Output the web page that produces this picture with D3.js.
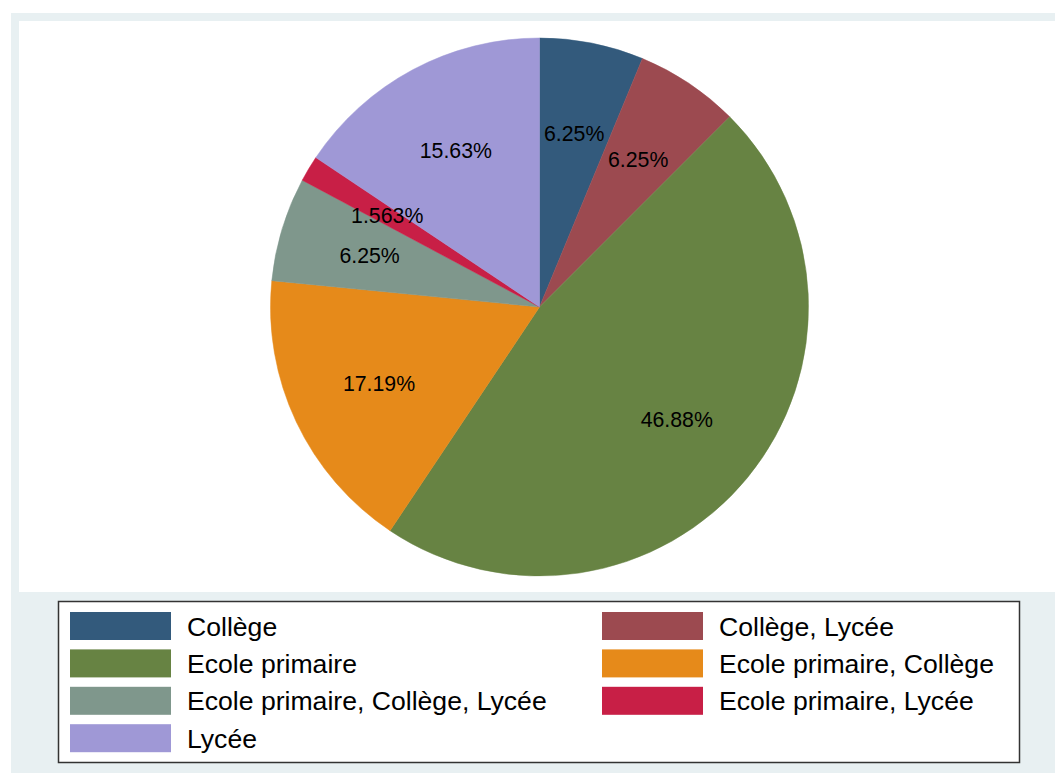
<!DOCTYPE html>
<html><head><meta charset="utf-8">
<script src="https://cdn.jsdelivr.net/npm/d3@7"></script>
<style>body{margin:0;background:#fff}svg{display:block}text{font-family:"Liberation Sans",Arial,Helvetica,sans-serif}</style>
</head><body>
<svg id="c" width="1055" height="774"></svg>
<script>
const categories = ["Collège","Collège, Lycée","Ecole primaire","Ecole primaire, Collège","Ecole primaire, Collège, Lycée","Ecole primaire, Lycée","Lycée"];
const counts = [4,4,30,11,4,1,10];
const labels = ["6.25%","6.25%","46.88%","17.19%","6.25%","1.563%","15.63%"];
const colors = ["#335a7c","#9c4a50","#678343","#e68a1a","#7f978c","#c81f46","#9f98d6"];

const svg = d3.select("#c");
svg.append("rect").attr("x",11).attr("y",13).attr("width",1044).attr("height",760).attr("fill","#e8f0f2");
svg.append("rect").attr("x",19).attr("y",21).attr("width",1036).attr("height",571).attr("fill","#ffffff");

const cx = 539.5, cy = 307, R = 269;
const pie = d3.pie().sort(null).value(d=>d)(counts);
const arc = d3.arc().innerRadius(0).outerRadius(R);
const labelArc = d3.arc().innerRadius(R*0.66).outerRadius(R*0.66);
const g = svg.append("g").attr("transform",`translate(${cx},${cy})`);
g.selectAll("path").data(pie).join("path")
  .attr("d",arc).attr("fill",(d,i)=>colors[i]).attr("stroke",(d,i)=>colors[i]).attr("stroke-width",0.5);
g.selectAll("text").data(pie).join("text")
  .attr("transform",d=>`translate(${labelArc.centroid(d)})`)
  .attr("text-anchor","middle").attr("dy","0.36em")
  .attr("font-size",21.3).attr("fill","#000")
  .text((d,i)=>labels[i]);

// legend
svg.append("rect").attr("x",58.5).attr("y",601.5).attr("width",961).attr("height",161).attr("fill","#fff").attr("stroke","#333").attr("stroke-width",1.5);
const colX = [70,602], rowY0 = 612, pitch = 37.4;
const lg = svg.append("g");
categories.forEach((c,i)=>{
  const col = i%2, row = Math.floor(i/2);
  const y = rowY0 + row*pitch;
  lg.append("rect").attr("x",colX[col]).attr("y",y).attr("width",101).attr("height",28).attr("fill",colors[i]);
  lg.append("text").attr("x",colX[col]+117).attr("y",y+14).attr("dy","0.36em").attr("font-size",26.6).attr("fill","#000").text(c);
});
</script>
</body></html>
